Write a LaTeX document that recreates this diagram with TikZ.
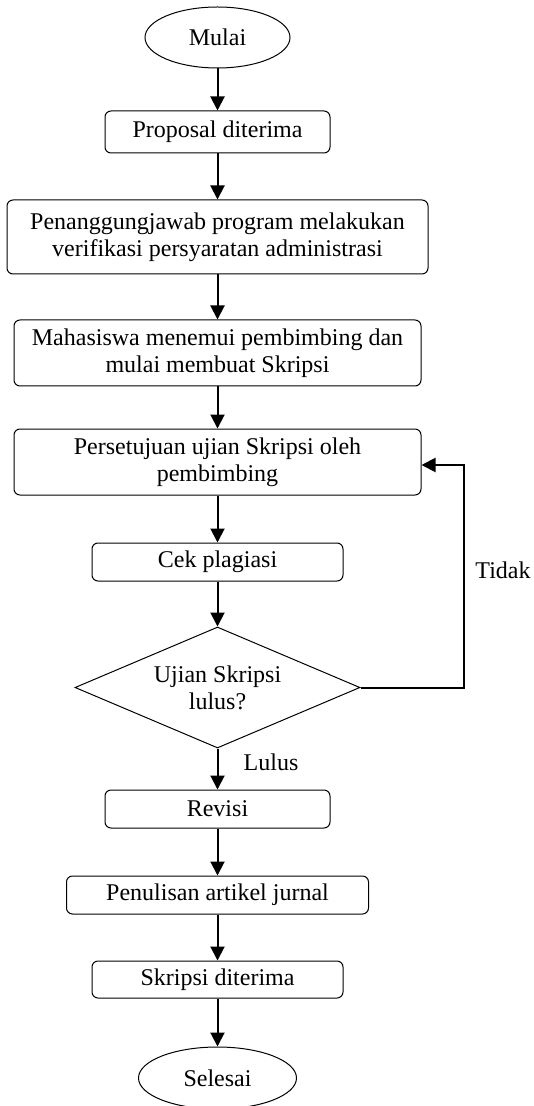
\documentclass[tikz,border=0pt]{standalone}
\usepackage{fontspec}
\setmainfont{Liberation Serif}
\usepackage{tikz}
\usetikzlibrary{shapes.geometric}
\usetikzlibrary{arrows.meta}

\begin{document}
\begin{tikzpicture}[x=0.5pt,y=-0.5pt,>={Triangle[length=7pt,width=7pt]}]
        \tikzset{proses/.style={shape=rectangle,draw,rounded corners=3pt,line width=0.5pt,inner sep=0pt,align=center,font=\fontsize{12}{13.5}\selectfont}}
        \tikzset{terminal/.style={shape=ellipse,draw,line width=0.5pt,inner sep=0pt,font=\fontsize{12}{13.5}\selectfont}}
        \tikzset{keputusan/.style={shape=diamond,draw,line width=0.5pt,inner sep=0pt,aspect=2.36,align=center,font=\fontsize{12}{13.5}\selectfont}}
        \tikzset{alur/.style={->,draw,line width=1pt}}
        \tikzset{ket/.style={inner sep=0pt,font=\fontsize{12}{13.5}\selectfont}}

        \useasboundingbox (0,0) rectangle (534,1106);

        \node[terminal,minimum width=72.5pt,minimum height=30.5pt] (mulai) at (217.5,37.5) {Mulai};
        \node[proses,minimum width=112.5pt,minimum height=21pt] (prop) at (217.5,132) {Proposal diterima};
        \node[proses,minimum width=210.5pt,minimum height=37pt] (pj) at (217.5,237) {Penanggungjawab program melakukan\\verifikasi persyaratan administrasi};
        \node[proses,minimum width=203.5pt,minimum height=33pt] (mhs) at (217.5,353) {Mahasiswa menemui pembimbing dan\\mulai membuat Skripsi};
        \node[proses,minimum width=203.5pt,minimum height=33pt] (setuju) at (217.5,462) {Persetujuan ujian Skripsi oleh\\pembimbing};
        \node[proses,minimum width=125.5pt,minimum height=19pt] (cek) at (217.5,562) {Cek plagiasi};
        \node[keputusan,minimum width=142.5pt,minimum height=60.5pt] (uji) at (217.5,687.5) {Ujian Skripsi\\lulus?};
        \node[proses,minimum width=112.5pt,minimum height=19pt] (revisi) at (217.5,809) {Revisi};
        \node[proses,minimum width=151pt,minimum height=19pt] (tulis) at (217.5,895) {Penulisan artikel jurnal};
        \node[proses,minimum width=125.5pt,minimum height=18.5pt] (terima) at (217.5,979.5) {Skripsi diterima};
        \node[terminal,minimum width=79pt,minimum height=31pt] (selesai) at (217.5,1078) {Selesai};

        \node[ket] (tidak) at (503,570) {Tidak};
        \node[ket] (lulus) at (271,762) {Lulus};

        \path (mulai) edge[alur] (prop);
        \path (prop) edge[alur] (pj);
        \path (pj) edge[alur] (mhs);
        \path (mhs) edge[alur] (setuju);
        \path (setuju) edge[alur] (cek);
        \path (cek) edge[alur] (uji);
        \path (uji) edge[alur] (revisi);
        \path (revisi) edge[alur] (tulis);
        \path (tulis) edge[alur] (terima);
        \path (terima) edge[alur] (selesai);

        \coordinate (balik) at (464,465);
        \draw[alur] (uji.east) -- (uji.east -| balik) -- (balik) -- (setuju.east |- balik);
    \end{tikzpicture}
\end{document}
